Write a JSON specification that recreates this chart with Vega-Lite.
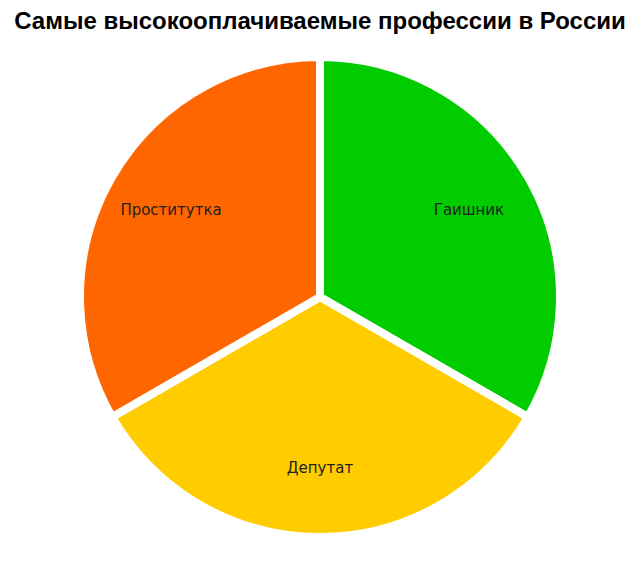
{
  "$schema": "https://vega.github.io/schema/vega-lite/v6.json",
  "title": {
    "text": "Самые высокооплачиваемые профессии в России",
    "font": "Liberation Sans",
    "fontSize": 24,
    "fontWeight": "bold",
    "color": "#000000",
    "anchor": "middle",
    "offset": 1
  },
  "width": 640,
  "height": 524,
  "padding": {"top": 10, "left": 0, "right": 0, "bottom": 0},
  "data": {
    "values": [
      {"profession": "Гаишник", "share": 1, "rank": 1},
      {"profession": "Депутат", "share": 1, "rank": 2},
      {"profession": "Проститутка", "share": 1, "rank": 3}
    ]
  },
  "encoding": {
    "theta": {"field": "share", "type": "quantitative", "stack": true},
    "order": {"field": "rank", "type": "quantitative"}
  },
  "layer": [
    {
      "mark": {"type": "arc", "outerRadius": 240, "stroke": "white", "strokeWidth": 8},
      "encoding": {
        "color": {
          "field": "profession",
          "type": "nominal",
          "scale": {
            "domain": ["Гаишник", "Депутат", "Проститутка"],
            "range": ["#00cc00", "#ffcc00", "#ff6600"]
          },
          "legend": null
        }
      }
    },
    {
      "mark": {"type": "text", "radius": 172, "font": "DejaVu Sans", "fontSize": 15, "color": "#222222", "align": "center", "baseline": "middle", "dy": -1},
      "encoding": {
        "text": {"field": "profession", "type": "nominal"}
      }
    }
  ],
  "config": {"view": {"stroke": null}}
}
